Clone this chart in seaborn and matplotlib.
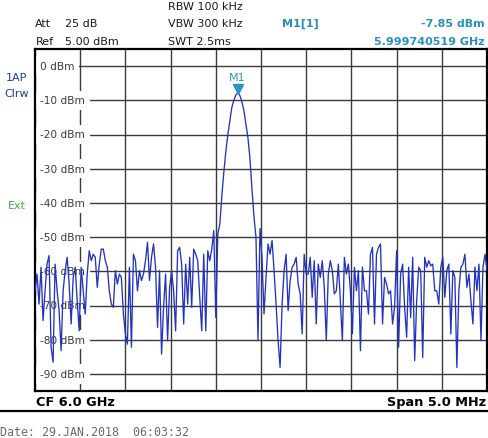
import numpy as np
import pandas as pd
import matplotlib
matplotlib.use("Agg")
import matplotlib.pyplot as plt
import matplotlib.transforms as mtransforms
import seaborn as sns

# ---------------- data ----------------
center_ghz = 6.0
span_mhz = 5.0
ref_level_dbm = 5.0
level_dbm = [
    -65.7, -60.8, -69.6, -58.8, -74.4, -65.7, -57.9, -55.4, -82.2, -86.6,
    -57.9, -65.7, -71.5, -83.2, -65.7, -59.8, -55.9, -63.7, -75.4, -61.8,
    -58.8, -68.6, -77.4, -58.8, -65.7, -72.5, -60.8, -54.0, -56.9, -55.0,
    -55.9, -64.7, -57.9, -53.5, -53.5, -56.9, -58.8, -65.7, -69.6, -70.5,
    -59.8, -63.7, -60.8, -61.8, -72.5, -78.3, -81.3, -58.8, -82.2, -55.0,
    -56.9, -65.7, -59.8, -62.7, -60.8, -56.9, -51.5, -62.7, -55.9, -52.0,
    -58.8, -76.4, -59.8, -84.2, -70.5, -60.8, -80.3, -64.7, -59.8, -65.7,
    -77.4, -54.0, -53.0, -57.9, -75.4, -57.9, -69.6, -55.9, -70.5, -53.5,
    -55.0, -56.9, -67.6, -77.4, -55.0, -77.4, -54.0, -56.9, -53.5, -48.1,
    -73.5, -49.1, -46.2, -38.0, -31.0, -25.0, -20.0, -16.0, -12.0, -10.0,
    -8.4, -7.85, -8.6, -10.5, -13.0, -17.0, -21.0, -27.0, -36.0, -44.0,
    -50.0, -80.0, -47.5, -56.0, -72.5, -61.8, -52.0, -55.0, -51.0, -59.8,
    -69.6, -80.3, -88.1, -69.6, -59.8, -55.0, -71.5, -62.7, -58.8, -57.9,
    -55.9, -63.7, -66.6, -78.3, -55.0, -60.8, -60.8, -55.9, -67.6, -56.9,
    -75.4, -57.9, -61.8, -56.9, -64.7, -80.3, -60.8, -56.9, -59.8, -66.6,
    -65.7, -57.9, -68.6, -80.3, -55.9, -60.8, -57.9, -65.7, -78.3, -58.8,
    -65.7, -59.8, -83.2, -58.8, -65.7, -65.7, -72.5, -55.0, -53.0, -75.4,
    -55.0, -53.0, -52.0, -75.4, -61.8, -63.7, -66.6, -65.7, -75.4, -70.5,
    -54.0, -82.2, -60.8, -57.9, -70.5, -79.3, -58.8, -73.5, -55.9, -86.1,
    -68.6, -58.8, -59.8, -85.2, -55.9, -58.8, -56.9, -58.4, -57.9, -65.7,
    -65.7, -69.6, -58.8, -55.9, -67.6, -59.8, -57.9, -78.3, -59.8, -61.8,
    -88.1, -65.7, -58.8, -57.9, -55.0, -64.7, -60.8, -68.6, -75.4, -58.8,
    -65.7, -57.9, -80.3, -58.8, -55.0, -59.8,
]
marker_freq_ghz = 5.999740519
marker_level_dbm = -7.85
y_grid_dbm = [0, -10, -20, -30, -40, -50, -60, -70, -80, -90]
y_tick_labels = ["0 dBm", "-10 dBm", "-20 dBm", "-30 dBm", "-40 dBm",
                 "-50 dBm", "-60 dBm", "-70 dBm", "-80 dBm", "-90 dBm"]

# ---------------- style ----------------
sns.set_theme(style="white")
plt.rcParams["font.family"] = ["DejaVu Sans"]

W, H = 488, 439
fig = plt.figure(figsize=(W / 100, H / 100), dpi=100)
fig.patch.set_facecolor("white")

def fx(px):
    return px / W

def fy(py):
    return 1 - py / H

ax = fig.add_axes([fx(35), fy(392), fx(487) - fx(35), fy(50) - fy(392)])
ax.set_facecolor("white")

freq_off = np.linspace(-span_mhz / 2, span_mhz / 2, len(level_dbm))
df = pd.DataFrame({"offset_mhz": freq_off, "level": level_dbm})
sns.lineplot(data=df, x="offset_mhz", y="level", ax=ax, color="#2233bf",
             lw=0.95, zorder=3, estimator=None, sort=False)

ax.set_xlim(-span_mhz / 2, span_mhz / 2)
ax.set_ylim(ref_level_dbm - 100, ref_level_dbm)
ax.set_xticks(np.arange(-2.5, 2.51, 0.5))
ax.set_yticks(y_grid_dbm)
ax.set_xticklabels([])
ax.set_yticklabels([])
ax.tick_params(length=0)
ax.set_xlabel("")
ax.set_ylabel("")
ax.set_axisbelow(True)
ax.grid(True, color="#3a3a3a", lw=1.0)
for s in ax.spines.values():
    s.set_color("black")
    s.set_linewidth(1.6)

trans = mtransforms.blended_transform_factory(ax.transAxes, ax.transData)
for v, lab in zip(y_grid_dbm, y_tick_labels):
    ax.text(0.011, v, lab, transform=trans, ha="left", va="center",
            fontsize=7.6, color="#3a3a3a", zorder=2,
            bbox=dict(boxstyle="square,pad=0.45", fc="white", ec="none"))

# marker
m_off = (marker_freq_ghz - center_ghz) * 1000
ax.plot([m_off], [marker_level_dbm + 1.3], marker="v", ms=6.5,
        color="#2a95c8", zorder=4, clip_on=False)
ax.text(m_off, -3.3, "M1", ha="center", va="center", fontsize=8,
        color="#2a95c8", zorder=4)

# header texts
hdr = dict(fontsize=8, color="#1a1a1a", va="center")
fig.text(fx(35), fy(24), "Att", ha="left", **hdr)
fig.text(fx(65), fy(24), "25 dB", ha="left", **hdr)
fig.text(fx(36), fy(42), "Ref", ha="left", **hdr)
fig.text(fx(65), fy(42), "5.00 dBm", ha="left", **hdr)
fig.text(fx(168), fy(7), "RBW 100 kHz", ha="left", **hdr)
fig.text(fx(168), fy(24), "VBW 300 kHz", ha="left", **hdr)
fig.text(fx(168), fy(42), "SWT 2.5ms", ha="left", **hdr)

teal = "#2a8fbf"
fig.text(fx(282), fy(24), "M1[1]", ha="left", va="center", fontsize=8,
         color=teal, fontweight="bold")
fig.text(fx(485), fy(24), f"{marker_level_dbm:.2f} dBm", ha="right", va="center",
         fontsize=8, color=teal, fontweight="bold")
fig.text(fx(485), fy(42), f"{marker_freq_ghz:.9f} GHz", ha="right", va="center",
         fontsize=8, color=teal, fontweight="bold")

# left side labels
fig.text(fx(17), fy(78), "1AP", ha="center", va="center", fontsize=8, color="#1c3f8a")
fig.text(fx(17), fy(94), "Clrw", ha="center", va="center", fontsize=8, color="#1c3f8a")
fig.text(fx(17), fy(206), "Ext", ha="center", va="center", fontsize=8, color="#3cb03c")

# footer
fig.text(fx(36), fy(403), f"CF {center_ghz:.1f} GHz", ha="left", va="center",
         fontsize=9.3, fontweight="bold", color="black")
fig.text(fx(486), fy(403), f"Span {span_mhz:.1f} MHz", ha="right", va="center",
         fontsize=9.3, fontweight="bold", color="black")
fig.add_artist(plt.Line2D([0, 1], [fy(412), fy(412)], transform=fig.transFigure,
                          color="black", lw=1.6))
fig.text(fx(0), fy(433), "Date: 29.JAN.2018  06:03:32", ha="left", va="center",
         fontsize=8.4, family="DejaVu Sans Mono", color="#6a6a6a")

fig.savefig("out.png", dpi=100)
